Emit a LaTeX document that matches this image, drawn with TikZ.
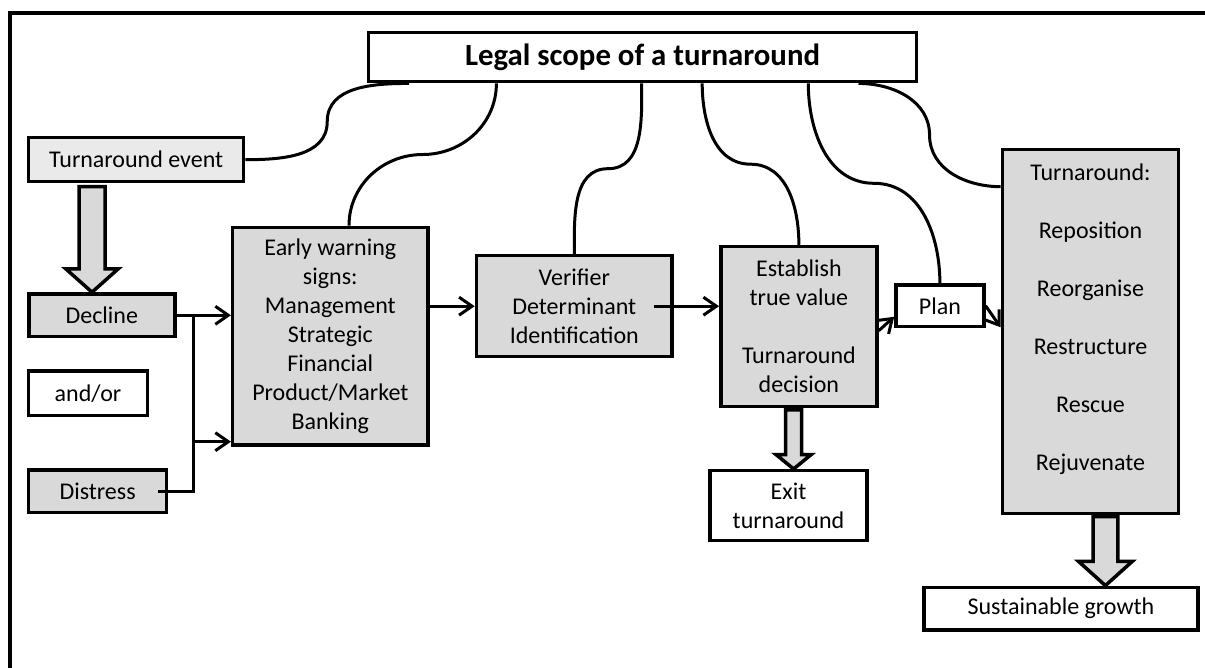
\documentclass[tikz,border=0pt]{standalone}
\usepackage{fontspec}
\setmainfont{Carlito}
\usetikzlibrary{arrows.meta,calc}

\definecolor{boxgray}{RGB}{217,217,217}
\definecolor{eventgray}{RGB}{234,234,234}

\tikzset{
  box/.style={draw, line width=1.75pt, fill=boxgray, align=center, inner sep=1pt,
    font=\fontsize{12}{14.5}\selectfont},
  whitebox/.style={box, fill=white},
  conn/.style={line width=1.5pt},
  arr/.style={conn, -{Straight Barb[length=6.5pt,width=9pt]}},
  fatarrow/.style={draw, line width=1.75pt, fill=boxgray, line join=miter},
}

\begin{document}
\begin{tikzpicture}[x=0.5pt,y=0.5pt]
          \useasboundingbox (0,0) rectangle (1205,668);
          \draw[line width=2pt] (9.5,0) |- (1210,655.3);

          \node[whitebox, minimum width=274pt, minimum height=24.7pt, font=\fontsize{15.4}{18}\selectfont\bfseries] (legal) at (642.5,611) {Legal scope of a turnaround};
          \node[box, fill=eventgray, minimum width=107.5pt, minimum height=22pt] (event) at (136.2,508.3) {Turnaround event};
          \node[box, minimum width=73pt, minimum height=21.35pt] (decline) at (101.8,352.7) {Decline};
          \node[whitebox, minimum width=59.3pt, minimum height=22.35pt] (andor) at (88,274.7) {and/or};
          \node[box, minimum width=68.9pt, minimum height=21.35pt] (distress) at (97.6,176.7) {Distress};
          \node[box, minimum width=97.6pt, minimum height=108.85pt] (early) at (330.3,331.8) {Early warning\\signs:\\Management\\Strategic\\Financial\\Product/Market\\Banking};
          \node[box, minimum width=97.85pt, minimum height=50.5pt] (verifier) at (574.3,361.8) {Verifier\\Determinant\\Identification};
          \node[box, minimum width=78.1pt, minimum height=80pt] (establish) at (798.9,341.3) {Establish\\true value\\[14.5pt]Turnaround\\decision};
          \node[whitebox, minimum width=44pt, minimum height=20.85pt] (plan) at (939.9,362.2) {Plan};
          \node[box, minimum width=88.15pt, minimum height=182pt] (turn) at (1090.5,336.7) {Turnaround:\\[14.5pt]Reposition\\[14.5pt]Reorganise\\[14.5pt]Restructure\\[14.5pt]Rescue\\[14.5pt]Rejuvenate\\~};
          \node[whitebox, minimum width=78.5pt, minimum height=35pt] (exit) at (788.5,162.3) {Exit\\turnaround};
          \node[whitebox, minimum width=137pt, minimum height=21.35pt] (growth) at (1061,59.3) {Sustainable growth};

          \draw[fatarrow] (decline.north -| 92,0) -- ++(-26.2,23.3) -- ++(13.2,0) -- ++(0,82.3) -- ++(26,0) -- ++(0,-82.3) -- ++(13.2,0) -- cycle;
          \draw[fatarrow] (exit.north -| 793.6,0) -- ++(-17.5,14.3) -- ++(9.4,0) -- ++(0,44.7) -- ++(16.2,0) -- ++(0,-44.7) -- ++(9.4,0) -- cycle;
          \draw[fatarrow] (growth.north -| 1105.4,0) -- ++(-27,24.3) -- ++(14.6,0) -- ++(0,44.7) -- ++(24.8,0) -- ++(0,-44.7) -- ++(14.6,0) -- cycle;

          \draw[arr] (decline.east) -- (decline.east -| early.west);
          \draw[conn] ([xshift=-5pt]distress.east) -| (decline.east -| 193.3,0);
          \coordinate (fork) at (193.3,226.3);
          \draw[arr] (fork) -- (fork -| early.west);
          \draw[arr] (verifier.west -| early.east) -- (verifier.west);
          \draw[arr] ([xshift=-10pt]verifier.east) -- (verifier.east -| establish.west);
          \draw[arr] ([yshift=-2pt]establish.east) -- ([yshift=-5.5pt]plan.west);
          \draw[arr] (plan.east) -- ([yshift=2pt]turn.west);

          \coordinate (l1) at (legal.south -| 409,0);
          \coordinate (l2) at (legal.south -| 496.4,0);
          \coordinate (l3) at (legal.south -| 641.7,0);
          \coordinate (l4) at (legal.south -| 702.2,0);
          \coordinate (l5) at (legal.south -| 808.3,0);
          \coordinate (l6) at (legal.south -| 858.5,0);
          \coordinate (e2) at (early.north -| 349,0);
          \coordinate (t6) at (turn.west |- 0,481.3);
          \draw[conn] (l1) to[out=180,in=90] ($(l1)!.5!(event.east)$) to[out=-90,in=0] (event.east);
          \draw[conn] (l2) to[out=-90,in=0] ($(l2)!.5!(e2)$) to[out=180,in=90] (e2);
          \draw[conn] (l3) to[out=-90,in=0] ($(l3)!.5!(verifier.north)$) to[out=180,in=90] (verifier.north);
          \draw[conn] (l4) to[out=-90,in=180] ($(l4)!.5!(establish.north)$) to[out=0,in=90] (establish.north);
          \draw[conn] (l5) to[out=-90,in=180] ($(l5)!.5!(plan.north)$) to[out=0,in=90] (plan.north);
          \draw[conn] (l6) to[out=0,in=90] ($(l6)!.5!(t6)$) to[out=-90,in=180] (t6);
        \end{tikzpicture}
\end{document}
